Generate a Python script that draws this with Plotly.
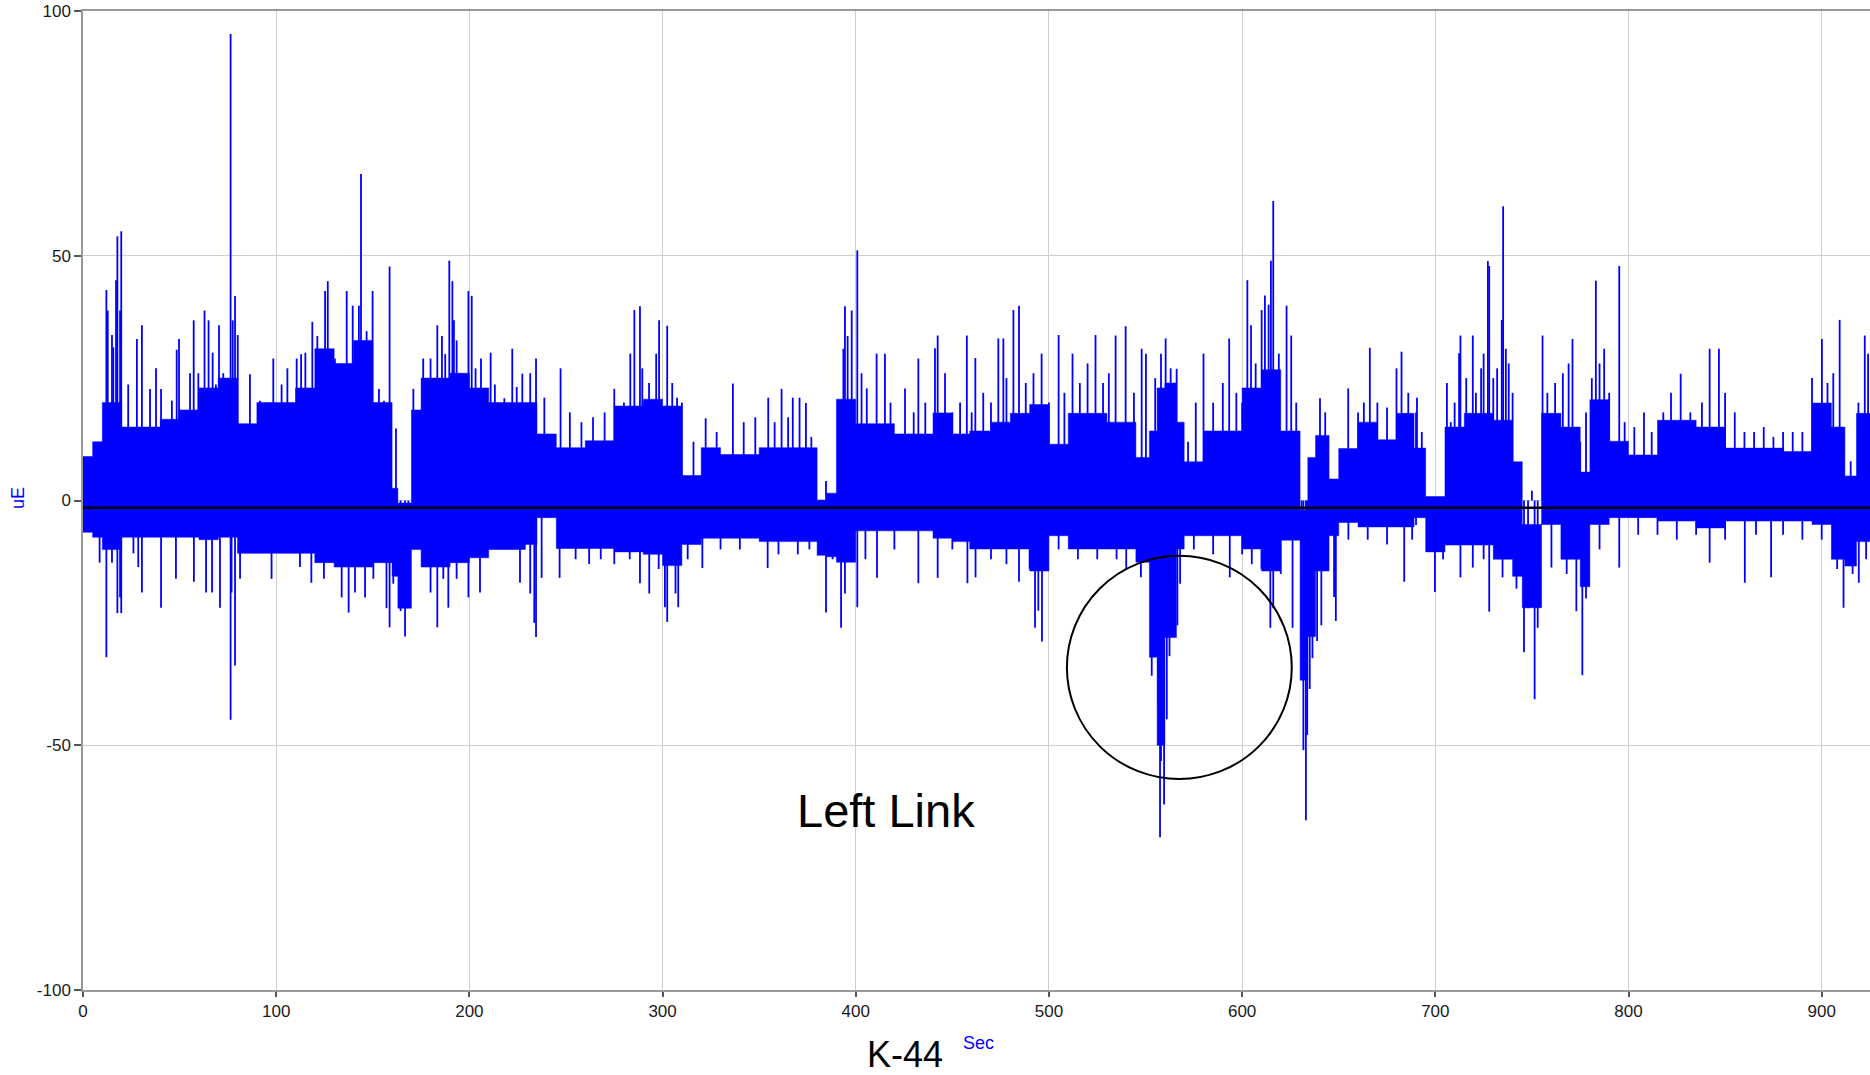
import plotly.graph_objects as go

# ---------------- data ----------------
# dense core band of the strain signal: segment start time (s), upper and lower edge (uE)
seg_start = [0, 5, 10, 20, 40, 50, 60, 70, 80, 90, 110, 120, 130, 140, 150, 160, 163, 170, 175,
             190, 200, 210, 229, 235, 245, 260, 275, 290, 300, 310, 320, 330, 350, 380, 385, 390,
             400, 420, 440, 450, 459, 470, 480, 490, 500, 510, 530, 545, 552, 556, 560, 566, 570,
             580, 600, 610, 620, 630, 634, 638, 645, 650, 660, 670, 680, 689, 695, 705, 715, 730,
             740, 745, 755, 765, 775, 780, 790, 800, 815, 835, 850, 880, 895, 905, 912, 918]
core_hi = [9, 12, 20, 15, 16.6, 18.5, 23, 25, 15.7, 20, 23, 31, 28, 32.7, 20, 2.5, -0.5, 18.5, 25,
           26, 23, 20, 20, 13.6, 10.8, 12.2, 19.3, 20.7, 19.3, 5.1, 10.8, 9.4, 10.8, 0.1, 1.5, 20.7,
           15.7, 13.6, 17.9, 13.6, 14.2, 16, 17.8, 19.6, 11.5, 17.8, 16, 8.8, 14.2, 23, 24, 16, 7.9,
           14.2, 23, 26.7, 14.2, -1.9, 8.8, 13.3, 4.4, 10.6, 16, 12.4, 17.8, 10.7, 0.8, 15, 17.8, 16.4,
           7.9, -4.9, 17.8, 15, 5.8, 20.6, 12.1, 9.3, 16.4, 15, 10.7, 10, 19.9, 15, 5, 17.8]
core_lo = [-6.5, -7.5, -10, -7.5, -7.5, -7.5, -8, -7.5, -10.8, -10.8, -10.8, -12.7, -13.6, -13.6,
           -12.7, -15.5, -22, -10, -13.6, -12.7, -11.7, -10, -9, -3.5, -9.8, -9.8, -10.5, -11, -13.3,
           -9, -7.7, -7.7, -8.4, -11.2, -11.5, -12.6, -6.2, -6.2, -7.7, -8.4, -9.9, -9.9, -9.9, -14.4,
           -7.2, -9.9, -9.9, -12.6, -32, -50, -28, -9.9, -7.2, -7.2, -9.9, -14.4, -8.1, -36.7, -27.8,
           -14.4, -7.2, -4.5, -5.4, -5.4, -5.4, -3.5, -10.5, -9.1, -9.1, -12, -15.5, -21.9, -4.9, -12,
           -17.6, -4.9, -3.5, -3.5, -4.2, -5.6, -4.2, -4.2, -4.9, -12, -13.4, -8.4]
t_end = 925

# individual spikes above the band: time (s), peak (uE)
up_t = [12.1, 12.8, 15, 15.7, 17.1, 17.8, 19.2, 19.8, 23.4, 27.9, 30.5, 34.7, 37.8, 40.4, 46, 48.5,
        49.7, 55.4, 57.3, 59.7, 62.9, 65, 67.1, 68.8, 70.4, 72.6, 76.4, 77.5, 78.7, 80.1, 86.4, 91.6,
        98.5, 102.8, 105.8, 110.6, 112.9, 115.1, 118.7, 121.3, 125.3, 126.7, 130.4, 136.5, 139.6,
        142.8, 143.9, 146.8, 149.9, 153.2, 155.8, 158.7, 162, 171, 176.1, 179.9, 183.4, 185.8, 187.5,
        189.6, 191.2, 192, 193.4, 195.1, 199.5, 201.2, 203.2, 206, 211, 213.2, 218.1, 222.2, 224.5,
        227.4, 230.6,
        231.5, 234.5, 238.8, 247.2, 252, 258, 264, 270, 275, 280, 283.3, 285.4, 288.3, 289.5, 293,
        296.7, 298.2, 302.4, 305, 307.5, 310, 316, 322.3, 328, 336.4, 342, 348, 354.7, 358, 361.6,
        365, 367.4, 370.9, 374.2, 377, 384.6, 393.6, 394.4, 395.8, 397.9, 400.8, 403, 405.7, 410.8,
        415.1, 418, 425.5, 430, 432.4, 436, 441, 442.4, 446.2, 450, 454, 457.5, 460,
        461.9, 466, 470, 473.8, 476.4, 478, 481.6, 484.5, 488, 492, 496.2, 500, 505, 508, 512.2, 516,
        520, 524.1, 528, 531, 534.5, 539.7, 544, 548, 550.2, 555, 558, 560.4, 563, 566.1, 572, 576,
        580, 585, 590, 593.3, 597, 600, 602.7, 604.6, 607, 610.1, 611.8, 613.7, 614.9, 616.1, 619,
        623, 625.4, 628, 640.3, 643, 654.9, 660, 663, 666.1, 670, 675, 679.9, 682.5, 686, 690,
        690.5, 693, 706, 708, 710, 712.3, 713, 716, 719.4, 721, 723.7, 725, 727.2, 727.9, 730, 732,
        734.4, 735.1, 736.5, 738, 740, 750, 755.5, 758, 762, 766, 769, 771, 775, 778, 781, 783.1,
        785, 787.4, 790, 795.2, 798, 803, 808, 812, 818, 822, 827, 832, 838, 842, 846.8, 850, 855,
        860, 865, 870, 875, 880, 885, 890, 895, 900.1, 903, 906, 909.3, 915, 919, 922.3, 924]
up_v = [43, 38.8, 33.8, 31.3, 45, 54, 38.8, 55, 23.7, 33, 35.8, 22.8, 27, 22.8, 20.4, 30.8,
        33, 26, 36.8, 26, 38.8, 36.8, 30.2, 23.7, 35.8, 26, 95.3, 36.8, 41.8, 33.8, 25.8, 20.4,
        29, 23.7, 27, 29, 29.9, 30.2, 36.5, 33.6, 42.8, 44.8, 29, 42.8, 39.8,
        39.8, 66.7, 34.6, 42.8, 22.8, 20.4, 47.8, 14.7, 22.8, 29, 29, 35.8, 33.6, 29.9,
        49, 44.8, 36.8, 32.7, 26, 42.8, 41.8, 27, 29, 30.2, 23.7, 20.9, 31, 23.2,
        25.9, 19.5,
        26, 29, 21, 27, 18, 16, 17, 18, 22.8, 20, 30, 38.9, 39.7, 27, 24,
        30, 36.8, 35.7, 24, 21, 20, 12, 16.8, 14, 23.9, 16, 17, 21, 16, 22.8,
        17, 21, 21, 19.9, 13, 4, 31, 39.7, 33.6, 38.8, 51.1, 26, 22.9, 30,
        30, 20, 22.9, 18, 29, 20, 31.1, 33.7, 26, 18, 20, 33.7, 18,
        29.1, 22, 20, 33.1, 33.1, 25, 38.9, 39.8, 24, 26, 30, 20, 33.8, 22, 30, 24,
        28, 33.8, 24, 26, 33.7, 35.6, 22, 31, 30, 25, 30, 33.1, 27, 26.9, 12, 20,
        30, 20, 24, 33.1, 22, 20, 45, 35.8, 28, 38.9, 41.9, 40, 49, 61.2, 30,
        39.8, 33.7, 20, 20.9, 18, 22.9, 18, 20, 31.2, 20, 19, 27, 30.4, 22, 18,
        21, 14, 24, 16, 20, 30.1, 33.7, 25, 33.7, 22, 27, 30, 48.9, 47.9, 25, 27,
        36.9, 60.1, 31, 28, 22, 2, 33.7, 22, 24, 26, 28, 33, 12, 18, 25, 44.9,
        28, 31, 22, 47.9, 16, 15, 18, 14, 18, 22, 25.9, 18, 20, 31, 31, 22, 18,
        14, 14, 15, 13, 14, 14, 14, 25, 33, 24, 26, 36.9, 8, 20, 33.7, 30]

# individual spikes below the band: time (s), trough (uE)
dn_t = [8.6, 12.1, 15, 17.8, 19.2, 19.8, 26.1, 28.6, 30.5, 40.4, 48.1, 57.4, 63.7, 66.8, 70.9,
        76.4, 76.9, 78.7, 81.3, 97.6, 112.3, 118.2, 124.7, 133.9, 137.5, 140.8, 146, 150.3, 157.1,
        158.7, 160.6, 164.4, 166.7, 168.4, 179.9, 183.4, 186.5, 189.1, 193.4, 199.5, 205.5, 226.2,
        231.5, 233.6, 234.5, 237.4, 246.7, 255, 262, 268, 275, 283, 288.3, 293.1, 298, 301.2, 302.4,
        306.7, 308.1, 313, 320.6, 330, 340, 354.4, 360, 370, 376, 384.6, 388, 392.4, 394.4, 400.8,
        405, 411, 420, 432.4, 442.4, 450, 457.8,
        462, 470, 478, 484.5, 490, 492.8, 494.5, 496.4, 505, 515, 525, 535, 540, 547.6, 553.2, 556.6,
        557.5, 558, 559.6, 561, 562.4, 564.5, 566.5, 567.9, 575, 585, 593.6, 600, 605, 610, 614.6,
        616.1, 620, 626.1, 630.8, 631.7, 633, 633.7, 635, 636.4, 638.8, 641, 647.6, 648.5, 655, 665,
        675, 683.9, 688,
        690, 699.8, 704, 713, 719.4, 725, 727.9, 734.8, 742, 745.9, 748, 751.4, 753, 760.1, 768, 773,
        776.1, 778, 785, 795.2, 805, 815, 825, 835, 842, 850, 860.2, 866, 873.8, 880, 890, 900, 908,
        911.3, 916, 919.2, 923]
dn_v = [-12.7, -32, -12.7, -23, -19.8, -23, -10.8, -13.6, -18.8, -21.9, -16, -16.6, -18.8, -18.8, -21.9,
        -44.8, -18.8, -33.7, -16, -16, -13.6, -16.8, -16, -19.8, -22.9, -18.8, -19.8, -16, -22,
        -25.9, -17, -22.6, -27.8, -19.8, -18.8, -25.9, -16, -21.9, -16, -19.8, -18.8, -16.8,
        -19, -25, -27.9, -15.8, -15.8, -12, -13, -12, -13, -12, -16.9, -19, -14, -21.8, -24.8,
        -19, -21.8, -12, -13.8, -10, -10, -13.8, -11, -11, -10, -22.9, -12, -26, -19, -21.8,
        -12, -15.8, -10, -16.9, -15.8, -10, -16.9,
        -15.7, -12, -13, -16.6, -14, -26, -22.5, -28.8, -10, -12, -12, -12, -14, -15.7, -35.8, -41.6,
        -68.8, -53.2, -62.1, -44.7, -31.8, -27.8, -25.5, -17, -10, -11, -15.7, -11, -13, -14, -26,
        -22, -15, -26, -28.7, -51, -65.3, -47.9, -38.5, -32.2, -28.7, -25.5, -19.7, -24.6, -8, -8,
        -9, -16.6, -8,
        -5, -18.7, -12, -15.7, -13.7, -12, -22.7, -15.7, -18, -31, -22, -40.6, -26, -13.7, -15, -22.6,
        -35.7, -20, -10, -13.7, -7, -7, -8, -7, -12.7, -8, -16.8, -7, -15.7, -7, -8, -8, -14,
        -21.9, -15, -16.8, -12]

mean_level = -1.5
circle_x = [509.3, 625.7]
circle_y = [-56.9, -11.3]

x_ticks = [0, 100, 200, 300, 400, 500, 600, 700, 800, 900]
y_ticks = [-100, -50, 0, 50, 100]

# ---------------- figure ----------------
BLUE = "#0000FF"
FONT = "Liberation Sans, Arial, sans-serif"
L, T, W, H, B = 83, 11, 1870, 1075, 85
PW, PH = W - L, H - T - B


def px_x(x):
    return (x - L) / PW


def px_y(y):
    return (H - B - y) / PH


band_x = seg_start + [t_end]
band_hi = core_hi + [core_hi[-1]]
band_lo = core_lo + [core_lo[-1]]

fig = go.Figure()
fig.add_trace(go.Scatter(x=band_x, y=band_lo, mode="lines", line=dict(width=0.5, color=BLUE, shape="hv"),
                         hoverinfo="skip", showlegend=False))
fig.add_trace(go.Scatter(x=band_x, y=band_hi, mode="lines", line=dict(width=0.5, color=BLUE, shape="hv"),
                         fill="tonexty", fillcolor=BLUE, hoverinfo="skip", showlegend=False))

sx, sy = [], []
for t, v in zip(up_t, up_v):
    sx += [t, t, None]
    sy += [0, v, None]
for t, v in zip(dn_t, dn_v):
    sx += [t, t, None]
    sy += [0, v, None]
fig.add_trace(go.Scatter(x=sx, y=sy, mode="lines", line=dict(width=1.8, color=BLUE),
                         hoverinfo="skip", showlegend=False, connectgaps=False))

fig.add_shape(type="line", xref="paper", x0=0, x1=1, yref="y", y0=mean_level, y1=mean_level,
              line=dict(color="black", width=2.5), layer="above")
fig.add_shape(type="circle", xref="x", yref="y", x0=circle_x[0], x1=circle_x[1],
              y0=circle_y[0], y1=circle_y[1], line=dict(color="black", width=2), layer="above")

fig.add_annotation(x=415.6, y=-63.4, xref="x", yref="y", text="Left Link", showarrow=False,
                   font=dict(size=47, color="black", family=FONT))
fig.add_annotation(x=px_x(905), y=px_y(1054), xref="paper", yref="paper", text="K-44", showarrow=False,
                   xanchor="center", yanchor="middle", font=dict(size=36, color="black", family=FONT))
fig.add_annotation(x=px_x(978), y=px_y(1043), xref="paper", yref="paper", text="Sec",
                   showarrow=False, xanchor="center", yanchor="middle",
                   font=dict(size=18, color=BLUE, family=FONT))
fig.add_annotation(x=px_x(18), y=px_y(498), xref="paper", yref="paper", text="uE",
                   showarrow=False, textangle=-90, xanchor="center", yanchor="middle",
                   font=dict(size=18, color=BLUE, family=FONT))

fig.update_layout(
    width=W, height=H,
    margin=dict(l=L, r=0, t=T, b=B, autoexpand=False),
    paper_bgcolor="white", plot_bgcolor="white",
    font=dict(family=FONT, size=17, color="#1a1a1a"),
    showlegend=False,
)
fig.update_xaxes(range=[0, t_end], tickvals=x_ticks, ticktext=[str(v) for v in x_ticks],
                 showgrid=True, gridcolor="#cfcfcf", gridwidth=1, zeroline=False,
                 showline=True, linecolor="#999999", linewidth=1.5, mirror=True,
                 ticks="outside", ticklen=5, tickcolor="#555555", tickwidth=1.5,
                 tickfont=dict(size=17, color="#1a1a1a"))
fig.update_yaxes(range=[-100, 100], tickvals=y_ticks, ticktext=[str(v) for v in y_ticks],
                 showgrid=True, gridcolor="#cfcfcf", gridwidth=1, zeroline=False,
                 showline=True, linecolor="#999999", linewidth=1.5,
                 ticks="outside", ticklen=7, tickcolor="#555555", tickwidth=1.5,
                 tickfont=dict(size=17, color="#1a1a1a"))

fig.write_html("out.html", config={"displayModeBar": False},
               post_script="document.body.style.margin='0px';document.body.style.overflow='hidden';")
